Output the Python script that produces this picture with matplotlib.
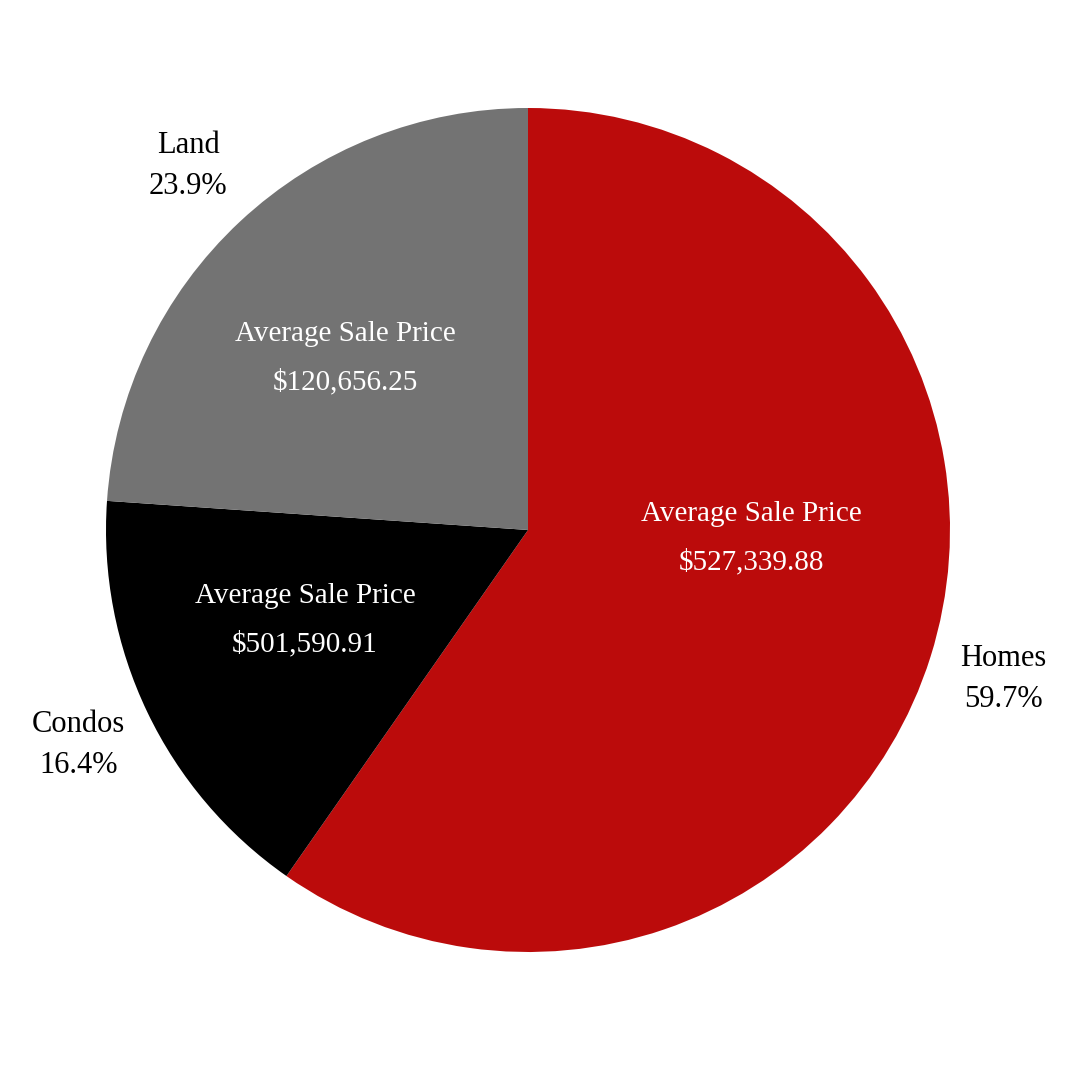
import numpy as np
import matplotlib
matplotlib.use("Agg")
import matplotlib.pyplot as plt

categories = ["Homes", "Condos", "Land"]
shares = [59.7, 16.4, 23.9]
avg_prices = [527339.88, 501590.91, 120656.25]
colors = ["#BB0B0B", "#000000", "#737373"]

plt.rcParams["font.family"] = ["Liberation Serif", "DejaVu Serif"]

fig = plt.figure(figsize=(10.8, 10.8), dpi=100)
cx, cy, r = 528 / 1080, 1 - 530 / 1080, 422 / 1080
ax = fig.add_axes([cx - r, cy - r, 2 * r, 2 * r])

wedges, texts = ax.pie(shares, colors=colors, startangle=90, counterclock=False,
                       labels=[c + "\n" + "%.1f%%" % s for c, s in zip(categories, shares)],
                       labeldistance=1.18, radius=1,
                       textprops={"fontsize": 22, "ha": "center", "va": "center"},
                       wedgeprops={"linewidth": 0})
for t in texts:
    t.set_horizontalalignment("center")
    t.set_linespacing(1.55)

# inner labels: (angle, distance) relative to the centre
inner_pos = [(-2, 0.53), (-158, 0.57), (136.8, 0.595)]
for (ang, d), p in zip(inner_pos, avg_prices):
    a = np.deg2rad(ang)
    ax.text(d * np.cos(a), d * np.sin(a), "Average Sale Price\n${:,.2f}".format(p),
            color="white", fontsize=21, ha="center", va="center", linespacing=2.05)

ax.set_xlim(-1, 1)
ax.set_ylim(-1, 1)
ax.set_aspect("equal")
ax.axis("off")
fig.savefig("out.png", dpi=100, facecolor="white")
